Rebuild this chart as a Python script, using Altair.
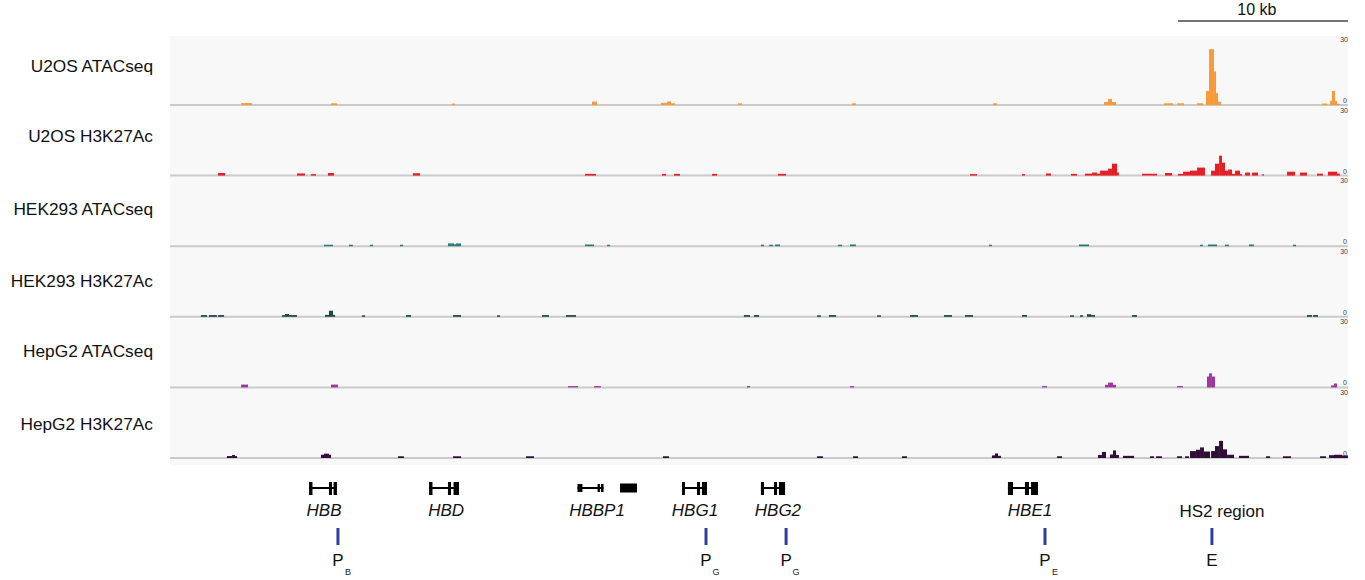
import altair as alt
import pandas as pd

# ---------------- data (genomic position in kb from window start) ----------------
track_names = ["U2OS ATACseq", "U2OS H3K27Ac", "HEK293 ATACseq",
               "HEK293 H3K27Ac", "HepG2 ATACseq", "HepG2 H3K27Ac"]
track_colors = ["#F89A3A", "#E41F26", "#2C7C7C", "#1E4646", "#A0359E", "#2F0F36"]

# (start_kb, end_kb, signal)
u2os_atac = [
    (4.18, 4.82, 0.9), (9.47, 9.82, 0.8), (16.59, 16.76, 0.7), (24.82, 25.12, 1.6),
    (28.88, 29.24, 1.0), (29.24, 29.47, 1.6), (29.47, 29.71, 0.8), (33.41, 33.65, 0.8),
    (40.12, 40.35, 0.8), (48.41, 48.65, 0.8), (54.94, 55.18, 1.4), (55.18, 55.41, 2.8),
    (55.41, 55.65, 1.4), (58.47, 59.0, 0.8), (59.24, 59.65, 0.8), (60.41, 60.76, 0.8),
    (60.94, 61.12, 6.5), (61.12, 61.41, 25.8), (61.41, 61.53, 15.5), (61.53, 61.65, 5.5),
    (61.65, 61.82, 1.5), (67.76, 68.06, 0.7), (68.24, 68.35, 2.0), (68.35, 68.53, 6.5),
    (68.53, 68.65, 1.8), (68.65, 68.82, 0.5),
]
u2os_h3k27ac = [
    (2.82, 3.24, 1.2), (7.47, 7.94, 1.0), (8.29, 8.59, 0.7), (9.29, 9.65, 1.2),
    (14.29, 14.71, 1.1), (24.41, 25.06, 0.8), (28.94, 29.18, 0.8), (29.65, 30.0, 0.8),
    (31.88, 32.18, 0.8), (35.76, 36.24, 0.8), (47.06, 47.47, 0.7), (50.12, 50.29, 0.7),
    (51.53, 51.82, 1.0), (53.0, 53.35, 0.8), (53.82, 54.24, 0.9), (54.24, 54.53, 1.4),
    (54.53, 54.71, 0.9), (54.71, 55.18, 2.3), (55.18, 55.41, 3.2), (55.41, 55.71, 5.5),
    (55.71, 55.82, 1.4), (57.18, 58.06, 0.8), (58.53, 58.94, 1.2), (59.29, 59.59, 0.8),
    (59.59, 60.0, 1.8), (60.0, 60.41, 2.3), (60.41, 60.88, 3.7), (61.24, 61.47, 2.3),
    (61.47, 61.71, 5.5), (61.71, 61.88, 9.2), (61.88, 62.06, 6.0), (62.06, 62.24, 2.3),
    (62.24, 62.47, 2.8), (62.47, 62.65, 0.8), (62.65, 62.94, 2.3), (62.94, 63.06, 0.7),
    (63.24, 63.53, 1.4), (63.65, 64.0, 1.4), (64.24, 64.35, 0.6), (65.71, 66.18, 1.8),
    (66.47, 66.88, 1.4), (67.47, 67.82, 0.9), (68.12, 68.65, 1.8), (68.65, 68.82, 0.9),
]
hek_atac = [
    (9.06, 9.59, 0.7), (10.53, 10.76, 0.7), (11.76, 11.94, 0.7), (13.53, 13.71, 0.7),
    (16.35, 16.71, 1.3), (16.71, 16.82, 0.9), (16.82, 17.12, 1.3), (24.41, 24.94, 0.8),
    (25.71, 25.88, 0.7), (34.76, 34.94, 0.7), (35.24, 35.47, 0.7), (35.59, 35.88, 0.8),
    (39.29, 39.53, 0.7), (40.0, 40.35, 0.8), (48.18, 48.35, 0.7), (53.47, 54.06, 0.8),
    (60.59, 60.76, 0.7), (61.06, 61.59, 0.8), (62.06, 62.29, 0.7), (63.47, 63.76, 0.8),
    (66.06, 66.24, 0.7),
]
hek_h3k27ac = [
    (1.82, 2.18, 0.8), (2.29, 2.76, 0.8), (2.82, 3.18, 0.8), (6.59, 6.76, 0.8),
    (6.76, 7.0, 1.3), (7.0, 7.47, 0.8), (9.12, 9.35, 0.9), (9.35, 9.59, 2.8),
    (9.59, 9.71, 0.9), (11.29, 11.47, 0.7), (13.88, 14.18, 0.8), (16.65, 17.12, 0.8),
    (19.24, 19.41, 0.7), (21.88, 22.29, 0.8), (23.29, 23.88, 0.8), (33.76, 34.12, 0.8),
    (34.35, 34.65, 0.8), (38.06, 38.29, 0.7), (38.76, 39.18, 0.8), (41.59, 41.82, 0.7),
    (43.53, 44.0, 0.8), (45.53, 46.0, 0.8), (46.76, 47.24, 0.8), (50.12, 50.41, 0.8),
    (52.94, 53.18, 0.7), (53.53, 53.71, 0.7), (53.94, 54.18, 1.2), (54.18, 54.41, 0.8),
    (56.59, 56.88, 0.8), (66.88, 67.18, 0.8), (67.24, 67.53, 0.8),
]
hepg2_atac = [
    (4.18, 4.59, 1.3), (9.47, 9.88, 1.3), (23.41, 24.0, 0.6), (24.94, 25.35, 0.6),
    (33.94, 34.12, 0.6), (40.0, 40.24, 0.6), (51.29, 51.59, 0.6), (55.0, 55.18, 1.2),
    (55.18, 55.47, 2.2), (55.47, 55.65, 1.2), (59.24, 59.59, 0.6), (61.0, 61.12, 5.0),
    (61.12, 61.29, 6.5), (61.29, 61.47, 5.0), (68.29, 68.47, 0.9), (68.47, 68.65, 1.8),
]
hepg2_h3k27ac = [
    (3.35, 3.65, 0.9), (3.65, 3.82, 1.4), (3.82, 3.94, 0.9), (8.88, 9.06, 1.5),
    (9.06, 9.35, 2.0), (9.35, 9.47, 1.5), (13.41, 13.76, 0.8), (16.65, 17.12, 0.8),
    (20.94, 21.41, 0.8), (29.0, 29.35, 0.8), (38.06, 38.41, 0.8), (40.18, 40.47, 0.8),
    (43.06, 43.35, 0.8), (48.35, 48.53, 1.2), (48.53, 48.71, 2.1), (48.71, 48.88, 1.0),
    (52.18, 52.47, 0.8), (54.59, 54.82, 1.4), (54.82, 55.06, 2.8), (55.29, 55.47, 1.6),
    (55.47, 55.65, 3.5), (55.65, 55.82, 1.4), (56.06, 56.71, 1.0), (57.65, 57.88, 0.8),
    (58.0, 58.35, 0.8), (59.24, 59.53, 0.8), (59.71, 59.94, 0.8), (60.0, 60.35, 3.2),
    (60.35, 60.59, 3.8), (60.59, 60.82, 4.9), (60.82, 61.18, 3.0), (61.24, 61.47, 3.2),
    (61.47, 61.71, 5.5), (61.71, 61.94, 7.9), (61.94, 62.18, 4.0), (62.18, 62.59, 1.5),
    (62.88, 63.47, 1.0), (64.47, 64.71, 0.8), (65.47, 65.94, 0.8), (67.65, 68.0, 0.8),
    (68.18, 68.47, 1.3), (68.47, 68.94, 1.5), (68.94, 69.29, 1.2),
]
tracks = [u2os_atac, u2os_h3k27ac, hek_atac, hek_h3k27ac, hepg2_atac, hepg2_h3k27ac]

# gene models
gene_names = ["HBB", "HBD", "HBBP1", "HBG1", "HBG2", "HBE1"]
gene_spans = [(8.18, 9.82), (15.24, 17.0), (23.97, 25.5), (30.12, 31.59), (34.76, 36.18), (49.29, 51.06)]
gene_label_x = [9.06, 16.24, 25.12, 30.88, 35.76, 50.59]
gene_exons = [
    [(8.18, 8.38), (9.35, 9.53), (9.62, 9.82)],
    [(15.24, 15.44), (16.35, 16.53), (16.68, 17.0)],
    [(23.97, 24.26), (25.15, 25.29), (25.35, 25.5)],
    [(30.12, 30.29), (31.0, 31.18), (31.29, 31.59)],
    [(34.76, 34.94), (35.53, 35.71), (35.82, 36.18)],
    [(49.29, 49.59), (50.29, 50.53), (50.65, 51.06)],
]
pseudo_block = [(26.47, 27.47)]
region_label = ["HS2 region"]
region_label_x = [61.88]

# regulatory elements
element_x = [9.88, 31.53, 36.24, 51.47, 61.29]
element_main = ["P", "P", "P", "P", "E"]
element_sub = ["B", "G", "G", "E", ""]

scale_bar = (59.29, 69.29)
scale_label = "10 kb"
axis_max, axis_min = 30, 0

# ---------------- layout constants ----------------
X_DOMAIN = [-10.0, 70.294]
X_END = 69.29
FONT = "Liberation Sans"
BASE0, PITCH, TRACK_PX = 105.0, 70.6, 65.0
LABEL_Y = [67, 137, 210, 282, 352, 425]

xs = alt.Scale(domain=X_DOMAIN, nice=False, zero=False)


def X(f):
    return alt.X(f, type="quantitative", scale=xs, axis=None)


layers = []

# background panel
bg = alt.Chart(pd.DataFrame({"a": [0.0], "b": [X_END]})).mark_rect(color="#f8f8f8").encode(
    x=X("a"), x2="b", y=alt.value(36), y2=alt.value(465))
layers.append(bg)

for k, (name, color, segs) in enumerate(zip(track_names, track_colors, tracks)):
    base = BASE0 + PITCH * k
    ys = alt.Scale(domain=[0, 30], range=[base, base - TRACK_PX], nice=False, zero=False)
    df = pd.DataFrame(segs, columns=["start", "end", "value"])
    df["zero"] = 0.0
    base_df = pd.DataFrame({"a": [0.0], "b": [X_END], "y": [0.0]})
    rule = alt.Chart(base_df).mark_rule(color="#cacaca", strokeWidth=2).encode(
        x=X("a"), x2="b", y=alt.Y("y:Q", scale=ys, axis=None))
    bars = alt.Chart(df).mark_rect(color=color).encode(
        x=X("start"), x2="end", y=alt.Y("value:Q", scale=ys, axis=None), y2="zero:Q")
    top_df = pd.DataFrame({"x": [X_END], "y": [float(axis_max)], "t": [str(axis_max)]})
    bot_df = pd.DataFrame({"x": [X_END], "y": [float(axis_min)], "t": [str(axis_min)]})
    t30 = alt.Chart(top_df).mark_text(align="right", baseline="middle", fontSize=7,
                                       fill="#444444", font=FONT).encode(
        x=X("x"), y=alt.Y("y:Q", scale=ys, axis=None), text="t:N")
    t0 = alt.Chart(bot_df).mark_text(align="right", baseline="bottom", fontSize=7, dy=-1,
                                      dx=-1, fill="#444444", font=FONT).encode(
        x=X("x"), y=alt.Y("y:Q", scale=ys, axis=None), text="t:N")
    lab_df = pd.DataFrame({"x": [-1.0], "t": [name]})
    lab = alt.Chart(lab_df).mark_text(align="right", baseline="middle", fontSize=17.3,
                                       fill="#111111", font=FONT).encode(
        x=X("x"), y=alt.value(LABEL_Y[k]), text="t:N")
    layers.append(alt.layer(rule, bars, t30, t0, lab))

# gene models
intr = pd.DataFrame({"a": [s[0] for s in gene_spans], "b": [s[1] for s in gene_spans]})
layers.append(alt.Chart(intr).mark_rule(color="black", strokeWidth=2).encode(
    x=X("a"), x2="b", y=alt.value(488)))
ex_rows = []
for g, exs in zip(gene_names, gene_exons):
    for a, b in exs:
        ex_rows.append({"gene": g, "a": a, "b": b})
ex_df = pd.DataFrame(ex_rows)
big = ex_df[ex_df.gene != "HBBP1"]
small = ex_df[ex_df.gene == "HBBP1"]
layers.append(alt.Chart(big).mark_rect(color="black").encode(
    x=X("a"), x2="b", y=alt.value(482), y2=alt.value(495)))
layers.append(alt.Chart(small).mark_rect(color="black").encode(
    x=X("a"), x2="b", y=alt.value(484), y2=alt.value(492)))
pb = pd.DataFrame(pseudo_block, columns=["a", "b"])
layers.append(alt.Chart(pb).mark_rect(color="black").encode(
    x=X("a"), x2="b", y=alt.value(483.5), y2=alt.value(492.5)))

gl = pd.DataFrame({"x": gene_label_x, "t": gene_names})
layers.append(alt.Chart(gl).mark_text(fontSize=17, fontStyle="italic", font=FONT,
                                      baseline="middle", fill="#111111").encode(
    x=X("x"), y=alt.value(511), text="t:N"))
rl = pd.DataFrame({"x": region_label_x, "t": region_label})
layers.append(alt.Chart(rl).mark_text(fontSize=17, font=FONT, baseline="middle",
                                      fill="#111111").encode(
    x=X("x"), y=alt.value(512), text="t:N"))

# regulatory element ticks and labels
el = pd.DataFrame({"x": element_x, "m": element_main, "s": element_sub})
layers.append(alt.Chart(el).mark_rule(color="#2E3F9E", strokeWidth=3).encode(
    x=X("x"), y=alt.value(528), y2=alt.value(545)))
layers.append(alt.Chart(el).mark_text(fontSize=17, font=FONT, baseline="middle",
                                      fill="#111111").encode(
    x=X("x"), y=alt.value(561), text="m:N"))
layers.append(alt.Chart(el).mark_text(fontSize=9, font=FONT, baseline="middle", dx=10,
                                      fill="#222222").encode(
    x=X("x"), y=alt.value(572), text="s:N"))

# scale bar
sb = pd.DataFrame({"a": [scale_bar[0]], "b": [scale_bar[1]],
                   "m": [(scale_bar[0] + scale_bar[1]) / 2], "t": [scale_label]})
layers.append(alt.Chart(sb).mark_rule(color="#444444", strokeWidth=1.5).encode(
    x=X("a"), x2="b", y=alt.value(21)))
layers.append(alt.Chart(sb).mark_text(fontSize=16, font=FONT, baseline="middle", dx=-6,
                                      fill="#111111").encode(
    x=X("m"), y=alt.value(10), text="t:N"))

chart = alt.layer(*layers).resolve_scale(y="independent").properties(
    width=1365, height=580, padding=0,
    autosize=alt.AutoSizeParams(type="none"),
).configure_view(strokeWidth=0)

chart.save("out.html", embed_options={"renderer": "svg", "actions": False})
